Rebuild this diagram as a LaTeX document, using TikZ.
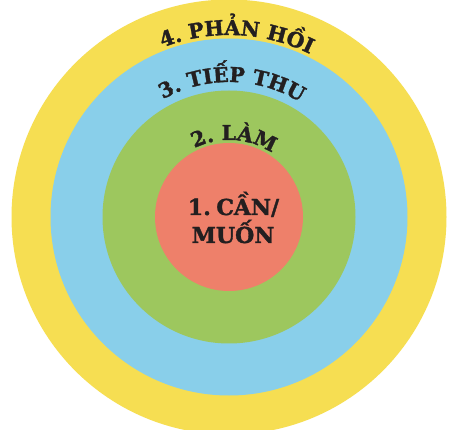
\documentclass[tikz,border=0pt]{standalone}
\usepackage{fontspec}
\setmainfont{DejaVu Serif}
\newfontface\heavyface{DejaVu Serif Bold}[FakeBold=1.6]
\usetikzlibrary{decorations.text}
\definecolor{ringyellow}{RGB}{246,222,82}
\definecolor{ringblue}{RGB}{137,207,234}
\definecolor{ringgreen}{RGB}{157,199,94}
\definecolor{ringred}{RGB}{238,128,106}
\definecolor{ink}{RGB}{35,31,32}
\newcommand{\ringfont}{\fontsize{20.5}{24}\heavyface\color{ink}}
\newcommand{\corefont}{\fontsize{22}{25}\heavyface\color{ink}}
\tikzset{
  ring/.style={fill=#1, draw=none},
  arclabel/.style={decorate, decoration={text along path, text align=center, text={#1}}},
  corelabel/.style={anchor=base, inner sep=0pt, font=\corefont}
}
\begin{document}
\begin{tikzpicture}[x=1pt,y=1pt]
\useasboundingbox (0,0) rectangle (453,429);
\fill[white] (0,0) rectangle (453,429);
\coordinate (c) at (229,212);
\begin{scope}
\clip (0,0) rectangle (453,429);
\fill[ring=ringyellow] (c) circle[radius=217.5pt];
\fill[ring=ringblue] (c) circle[radius=178.5pt];
\fill[ring=ringgreen] (c) circle[radius=126.5pt];
\fill[ring=ringred] (c) circle[radius=74pt];
\end{scope}
% curved labels
\path[arclabel={|\ringfont|4. PHẢN HỒI}] (c) ++(142.5:182pt) arc[start angle=142.5, end angle=32.5, radius=182pt];
\path[arclabel={|\ringfont|3. TIẾP THU}] (c) ++(153.7:135pt) arc[start angle=153.7, end angle=23.7, radius=135pt];
\path[arclabel={|\ringfont|2. LÀM}] (c) ++(171.3:77pt) arc[start angle=171.3, end angle=1.3, radius=77pt];
% core labels
\node[corelabel] (core1) at (233.5,214) {1.\kern0.25em CẦN/};
\node[corelabel] (core2) at (233,186) {MUỐN};
\end{tikzpicture}
\end{document}
